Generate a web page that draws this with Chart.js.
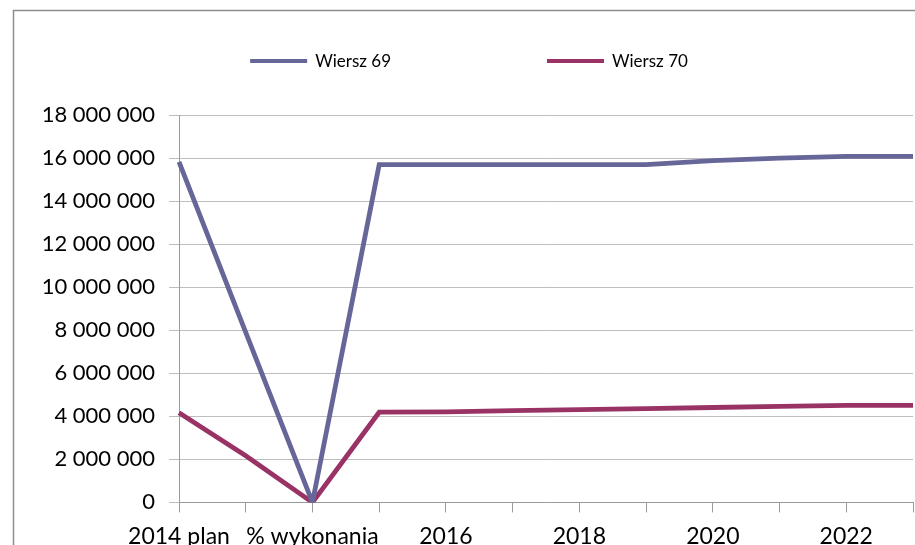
<!DOCTYPE html>
<html>
<head>
<meta charset="utf-8">
<script src="https://cdn.jsdelivr.net/npm/chart.js@4/dist/chart.umd.min.js"></script>
<style>
  html, body { margin: 0; padding: 0; background: #fff; }
  #wrap { width: 915px; height: 545px; overflow: hidden; position: relative; }
  #chart { position: absolute; left: 0; top: 0; }
</style>
</head>
<body>
<div id="wrap"><canvas id="chart" width="938" height="563"></canvas></div>
<script>
// categories (every other one is labelled, like the original)
const categories = ['2014 plan', '2014 wykonanie', '% wykonania', '2015', '2016', '2017',
  '2018', '2019', '2020', '2021', '2022', '2023'];
const wiersz69 = [15820000, 7900000, 100, 15690000, 15690000, 15690000, 15690000,
  15690000, 15880000, 16000000, 16080000, 16080000];
const wiersz70 = [4170000, 2170000, 100, 4190000, 4210000, 4260000, 4310000,
  4360000, 4410000, 4460000, 4510000, 4510000];
const seriesNames = ['Wiersz 69', 'Wiersz 70'];
const seriesColors = ['#666699', '#993366'];
const yMax = 18000000;
const yStep = 2000000;

const FONT = 'Lato, "Open Sans", sans-serif';

function spaced(v) {
  return String(v).replace(/\B(?=(\d{3})+(?!\d))/g, ' ');
}

// outer frame of the chart object (cut off right and bottom)
const framePlugin = {
  id: 'frame',
  beforeDraw(chart) {
    const ctx = chart.ctx;
    ctx.save();
    ctx.strokeStyle = '#8e8e8e';
    ctx.lineWidth = 1.5;
    ctx.strokeRect(13.5, 10.5, chart.width + 20, chart.height + 20);
    ctx.restore();
  }
};

// simple legend: line sample + text, centred at the top
const legendPlugin = {
  id: 'lineLegend',
  afterDraw(chart) {
    const ctx = chart.ctx;
    const sample = 57, gapText = 8, gapItem = 156;
    ctx.save();
    ctx.font = '17px ' + FONT;
    ctx.textBaseline = 'middle';
    const items = chart.data.datasets.map(ds => ({
      label: ds.label, color: ds.borderColor, w: ctx.measureText(ds.label).width
    }));
    let total = 0;
    items.forEach((it, i) => { total += sample + gapText + it.w + (i ? gapItem : 0); });
    let x = chart.width / 2 - total / 2;
    const y = 61;
    items.forEach(it => {
      ctx.strokeStyle = it.color;
      ctx.lineWidth = 4;
      ctx.beginPath();
      ctx.moveTo(x, y);
      ctx.lineTo(x + sample, y);
      ctx.stroke();
      ctx.fillStyle = '#000';
      ctx.fillText(it.label, x + sample + gapText, y + 1);
      x += sample + gapText + it.w + gapItem;
    });
    ctx.restore();
  }
};

const ctx = document.getElementById('chart').getContext('2d');
new Chart(ctx, {
  type: 'line',
  data: {
    labels: categories,
    datasets: [
      { label: seriesNames[0], data: wiersz69, borderColor: seriesColors[0] },
      { label: seriesNames[1], data: wiersz70, borderColor: seriesColors[1] }
    ].map(ds => Object.assign(ds, {
      borderWidth: 4.8, pointRadius: 0, tension: 0, fill: false, borderJoinStyle: 'miter'
    }))
  },
  options: {
    responsive: false,
    animation: false,
    layout: { padding: { top: 115, right: 25, bottom: 3, left: 0 } },
    plugins: { legend: { display: false }, tooltip: { enabled: false } },
    scales: {
      x: {
        offset: false,
        grid: { drawOnChartArea: false, drawTicks: true, tickLength: 10, color: '#9a9a9a' },
        border: { color: '#9a9a9a' },
        ticks: {
          autoSkip: false, maxRotation: 0, padding: 10, color: '#000',
          font: { family: FONT, size: 23 },
          callback: (v, i) => (i % 2 === 0 ? categories[i] : '')
        }
      },
      y: {
        min: 0, max: yMax,
        afterFit: s => { s.width = 179; },
        grid: { color: '#bdbdbd', tickLength: 10 },
        border: { color: '#9a9a9a' },
        ticks: {
          stepSize: yStep, padding: 14, color: '#000',
          font: { family: FONT, size: 22 },
          callback: v => spaced(v)
        }
      }
    }
  },
  plugins: [framePlugin, legendPlugin]
});
</script>
</body>
</html>
